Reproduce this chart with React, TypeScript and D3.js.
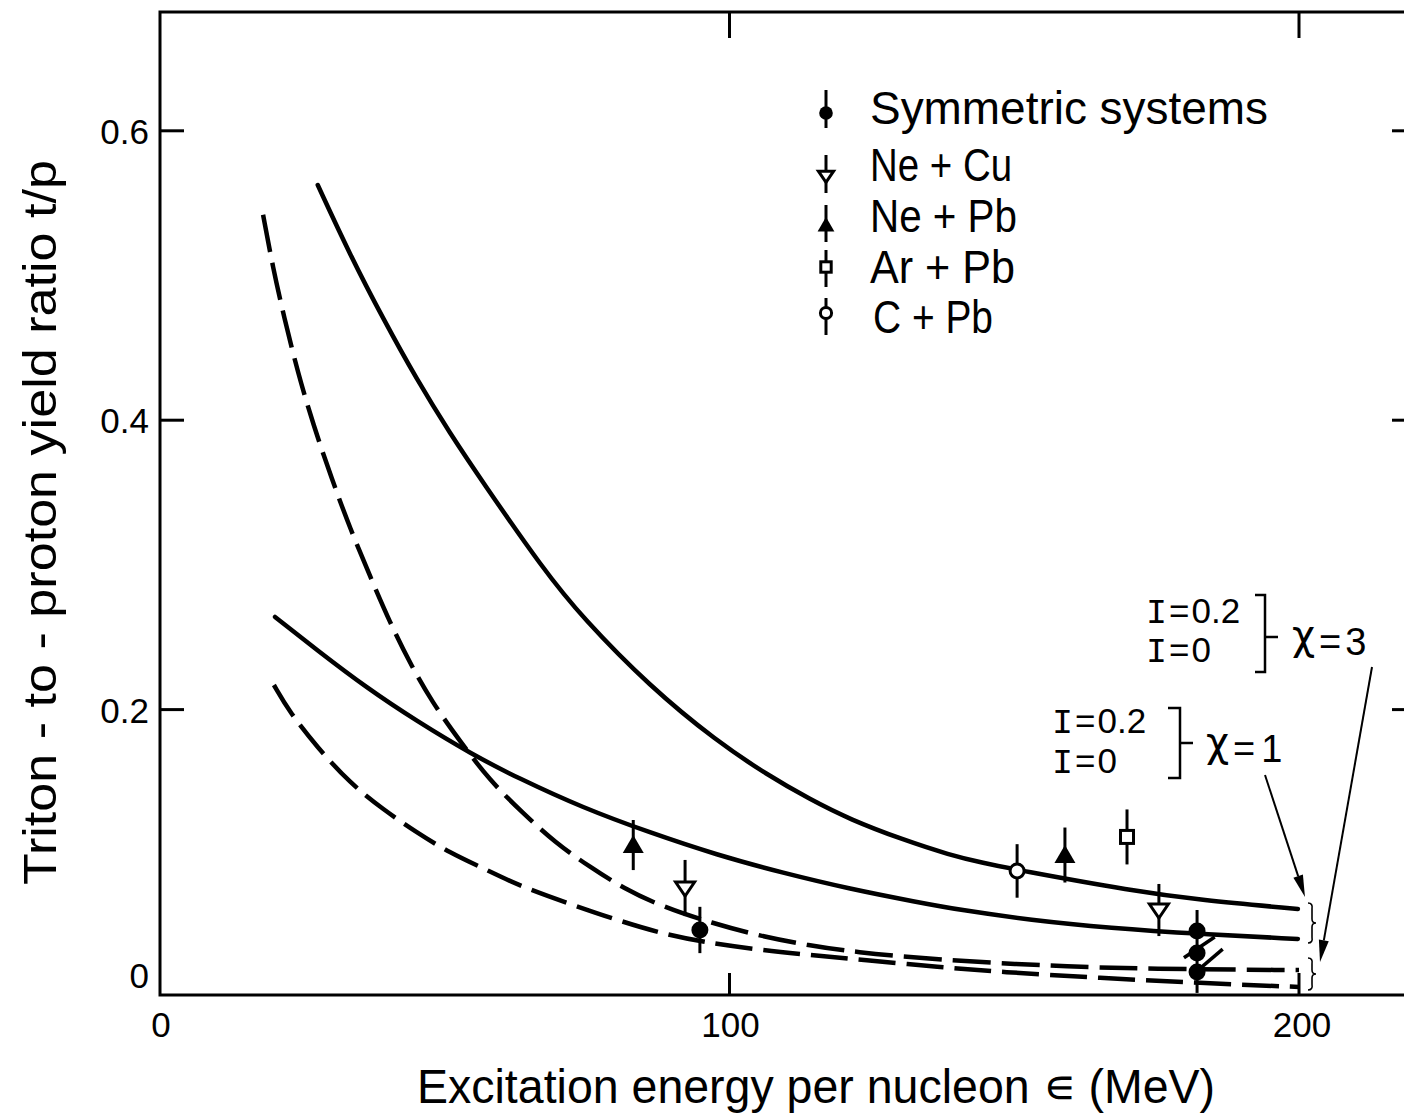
import React from 'react';
import * as d3 from 'd3';

// ---------- data ----------
const xTickValues = [0, 100, 200];
const xTickLabels = ['0', '100', '200'];
const yTickValues = [0, 0.2, 0.4, 0.6];
const yTickLabels = ['0', '0.2', '0.4', '0.6'];

// theory curves [energy (MeV), t/p]
const curveChi1I02: [number, number][] = [
  [27.7, 0.5625], [33.4, 0.514], [39.2, 0.47], [45.1, 0.428], [50.9, 0.391], [56.7, 0.357],
  [67.3, 0.297], [74.3, 0.263], [86.0, 0.216], [97.8, 0.178], [106.6, 0.155], [114.1, 0.138],
  [121.2, 0.124], [130.5, 0.11], [138.7, 0.0995], [144.5, 0.094], [150.5, 0.0892],
  [170.9, 0.0746], [182.6, 0.0684], [199.8, 0.0622],
];
const curveChi1I0: [number, number][] = [
  [20.2, 0.264], [27.6, 0.241], [36.3, 0.215], [45.1, 0.192], [54.8, 0.169], [62.7, 0.153],
  [74.3, 0.132], [86.0, 0.115], [97.8, 0.0995], [109.4, 0.0871], [121.2, 0.076], [132.9, 0.067],
  [140.5, 0.0615], [152.8, 0.0546], [166.8, 0.0491], [182.6, 0.0449], [199.8, 0.0415],
];
const curveChi3I02: [number, number][] = [
  [18.1, 0.542], [19.8, 0.506], [21.8, 0.471], [24.2, 0.433], [26.9, 0.397], [30.2, 0.359],
  [33.4, 0.325], [36.9, 0.292], [40.4, 0.26], [43.9, 0.232], [47.8, 0.205], [52.7, 0.178],
  [57.9, 0.151], [63.6, 0.129], [69.4, 0.108], [75.5, 0.0912], [81.3, 0.0767], [88.3, 0.0636],
  [96.9, 0.0525], [105.4, 0.0435], [113.6, 0.0373], [121.7, 0.0325], [136.9, 0.027],
  [156.3, 0.0228], [173.8, 0.0207], [200, 0.02],
];
const curveChi3I0: [number, number][] = [
  [20.0, 0.217], [22.8, 0.198], [27.6, 0.174], [33.4, 0.149], [39.2, 0.131], [45.1, 0.115],
  [50.9, 0.101], [56.7, 0.0905], [62.7, 0.0788], [71.5, 0.0663], [80.2, 0.0546], [87.8, 0.0456],
  [95.3, 0.0394], [105.4, 0.0339], [114.1, 0.0304], [123.4, 0.027], [137.0, 0.0221],
  [147.5, 0.0187], [165.1, 0.0145], [182.6, 0.0111], [200, 0.0083],
];

// data points [energy, t/p, error]
const symmetricSystems: [number, number, number][] = [
  [94.8, 0.0477, 0.016], [182.1, 0.047, 0.0145], [182.1, 0.0318, 0], [182.1, 0.0187, 0.0145],
];
const neCu: [number, number, number][] = [[92.2, 0.0767, 0.0194], [175.4, 0.0615, 0.018]];
const nePb: [number, number, number][] = [[83.1, 0.1064, 0.0173], [158.9, 0.0995, 0.019]];
const arPb: [number, number, number][] = [[169.8, 0.112, 0.019]];
const cPb: [number, number, number][] = [[150.5, 0.0885, 0.0185]];
// slash marks through the symmetric points at 182 MeV [e1, v1, e2, v2]
const slashMarks: [number, number, number, number][] = [
  [179.8, 0.0285, 185.2, 0.0428], [181.1, 0.016, 186.6, 0.0345],
];

const legendLabels = ['Symmetric systems', 'Ne + Cu', 'Ne + Pb', 'Ar + Pb', 'C + Pb'];
const legendShapes = ['fcircle', 'tridown', 'triup', 'square', 'ocircle'];

// ---------- layout ----------
const W = 1404, H = 1116;
const FL = 160, FT = 12, FB = 995, FR = 1417;
const x = d3.scaleLinear().domain([0, 200]).range([160, 1299]);
const y = d3.scaleLinear().domain([0, 0.6]).range([999, 130.8]);
const SANS = '"Liberation Sans", Arial, sans-serif';
const MONO = '"Liberation Mono", monospace';

const line = d3.line<[number, number]>().x(d => x(d[0])).y(d => y(d[1])).curve(d3.curveBasis);

function Marker({ shape, cx, cy, s = 1 }: { shape: string; cx: number; cy: number; s?: number }) {
  if (shape === 'fcircle') return <circle cx={cx} cy={cy} r={8.5 * s} fill="#000" />;
  if (shape === 'ocircle') return <circle cx={cx} cy={cy} r={7 * s} fill="#fff" stroke="#000" strokeWidth={3} />;
  if (shape === 'square') return <rect x={cx - 6.5 * s} y={cy - 6.5 * s} width={13 * s} height={13 * s} fill="#fff" stroke="#000" strokeWidth={3} />;
  if (shape === 'triup') return <path d={`M${cx},${cy - 10 * s}L${cx + 10.5 * s},${cy + 8 * s}L${cx - 10.5 * s},${cy + 8 * s}Z`} fill="#000" />;
  return <path d={`M${cx - 9.5 * s},${cy - 6 * s}L${cx + 9.5 * s},${cy - 6 * s}L${cx},${cy + 8 * s}Z`} fill="#fff" stroke="#000" strokeWidth={3} strokeLinejoin="miter" />;
}

function Points({ data, shape }: { data: [number, number, number][]; shape: string }) {
  return (
    <g>
      {data.map((d, i) => (
        <g key={i}>
          {d[2] > 0 && <line x1={x(d[0])} x2={x(d[0])} y1={y(d[1] - d[2])} y2={y(d[1] + d[2])} stroke="#000" strokeWidth={3} />}
          <Marker shape={shape} cx={x(d[0])} cy={y(d[1])} />
        </g>
      ))}
    </g>
  );
}

function Arrow({ x1, y1, x2, y2 }: { x1: number; y1: number; x2: number; y2: number }) {
  const a = Math.atan2(y2 - y1, x2 - x1);
  const L = 22, w = 5;
  const bx = x2 - L * Math.cos(a), by = y2 - L * Math.sin(a);
  const px = -Math.sin(a) * w, py = Math.cos(a) * w;
  return (
    <g>
      <line x1={x1} y1={y1} x2={bx} y2={by} stroke="#000" strokeWidth={2} />
      <path d={`M${x2},${y2}L${bx + px},${by + py}L${bx - px},${by - py}Z`} fill="#000" />
    </g>
  );
}

function Brace({ bx, y1, y2 }: { bx: number; y1: number; y2: number }) {
  const m = (y1 + y2) / 2;
  return (
    <path
      d={`M${bx - 3},${y1} Q${bx + 2},${y1} ${bx + 1},${y1 + 6} L${bx + 1},${m - 4} Q${bx + 1},${m} ${bx + 5},${m} Q${bx + 1},${m} ${bx + 1},${m + 4} L${bx + 1},${y2 - 6} Q${bx + 2},${y2} ${bx - 3},${y2}`}
      fill="none" stroke="#000" strokeWidth={1.6}
    />
  );
}

function IText({ tx, ty, val }: { tx: number; ty: number; val: string }) {
  return (
    <text x={tx} y={ty} fontFamily={SANS} fontSize={35}>
      <tspan fontFamily={MONO} fontSize={35}>I</tspan>
      <tspan dx={2}>=</tspan>
      <tspan dx={2}>{val}</tspan>
    </text>
  );
}

export default function App() {
  const legendX = 826;
  const legendRowsY = [113, 176, 225, 267, 313];
  const legendBars: [number, number][] = [[90, 128], [155, 193], [205, 242], [250, 287], [298, 335]];
  const legendBase = [124, 181, 232, 283, 333];
  const legendLen = [398, 142, 147, 145, 120];

  return (
    <svg width={W} height={H} style={{ position: 'absolute', left: 0, top: 0, background: '#fff' }}>
      <rect width={W} height={H} fill="#fff" />
      {/* frame */}
      <path d={`M${FR},${FT}H${FL}V${FB}H${FR}`} fill="none" stroke="#000" strokeWidth={3} />
      {/* ticks */}
      {xTickValues.filter(v => v > 0).map(v => (
        <g key={'xt' + v}>
          <line x1={x(v)} x2={x(v)} y1={FT} y2={FT + 26} stroke="#000" strokeWidth={3} />
          <line x1={x(v)} x2={x(v)} y1={FB} y2={FB - 22} stroke="#000" strokeWidth={3} />
        </g>
      ))}
      {yTickValues.filter(v => v > 0).map(v => (
        <g key={'yt' + v}>
          <line x1={FL} x2={FL + 24} y1={y(v)} y2={y(v)} stroke="#000" strokeWidth={3} />
          <line x1={FR - 25} x2={FR} y1={y(v)} y2={y(v)} stroke="#000" strokeWidth={3} />
        </g>
      ))}
      {/* tick labels */}
      {xTickValues.map((v, i) => (
        <text key={'xl' + v} x={x(v) + (i === 2 ? 3 : 1)} y={1037} textAnchor="middle" fontFamily={SANS} fontSize={35}>{xTickLabels[i]}</text>
      ))}
      {yTickValues.map((v, i) => (
        <text key={'yl' + v} x={149} y={v === 0 ? 988 : y(v) + 13} textAnchor="end" fontFamily={SANS} fontSize={35}>{yTickLabels[i]}</text>
      ))}
      {/* axis titles */}
      <text x={417} y={1103} fontFamily={SANS} fontSize={48} textLength={798} lengthAdjust="spacingAndGlyphs">Excitation energy per nucleon ∊ (MeV)</text>
      <text transform="translate(56,885) rotate(-90)" fontFamily={SANS} fontSize={47} textLength={725} lengthAdjust="spacingAndGlyphs">Triton - to - proton yield ratio t/p</text>

      {/* curves */}
      <path d={line(curveChi1I02) || ''} fill="none" stroke="#000" strokeWidth={4.5} strokeLinecap="round" />
      <path d={line(curveChi1I0) || ''} fill="none" stroke="#000" strokeWidth={4.5} strokeLinecap="round" />
      <path d={line(curveChi3I02) || ''} fill="none" stroke="#000" strokeWidth={4.5} strokeDasharray="38 11" />
      <path d={line(curveChi3I0) || ''} fill="none" stroke="#000" strokeWidth={4.5} strokeDasharray="37 11" />

      {/* data */}
      <Points data={symmetricSystems} shape="fcircle" />
      <Points data={neCu} shape="tridown" />
      <Points data={nePb} shape="triup" />
      <Points data={arPb} shape="square" />
      <Points data={cPb} shape="ocircle" />
      {slashMarks.map((s, i) => (
        <line key={'sl' + i} x1={x(s[0])} y1={y(s[1])} x2={x(s[2])} y2={y(s[3])} stroke="#000" strokeWidth={3.5} />
      ))}

      {/* legend */}
      {legendLabels.map((lab, i) => (
        <g key={'lg' + i}>
          <line x1={legendX} x2={legendX} y1={legendBars[i][0]} y2={legendBars[i][1]} stroke="#000" strokeWidth={3} />
          <Marker shape={legendShapes[i]} cx={legendX} cy={legendRowsY[i]} s={0.8} />
          <text x={i === 4 ? 873 : 870} y={legendBase[i]} fontFamily={SANS} fontSize={46} textLength={legendLen[i]} lengthAdjust="spacingAndGlyphs">{lab}</text>
        </g>
      ))}

      {/* annotations chi = 3 */}
      <IText tx={1146} ty={623} val="0.2" />
      <IText tx={1146} ty={662} val="0" />
      <path d="M1255,595H1265V672H1255M1265,637H1278" fill="none" stroke="#000" strokeWidth={2.5} />
      <text x={1292} y={655} fontFamily={SANS} fontSize={38}>
        <tspan fontFamily='"DejaVu Sans", sans-serif' fontSize={40} dy={-6}>χ</tspan>
        <tspan dx={4} dy={6}>=</tspan>
        <tspan dx={4}>3</tspan>
      </text>
      {/* annotations chi = 1 */}
      <IText tx={1052} ty={733} val="0.2" />
      <IText tx={1052} ty={773} val="0" />
      <path d="M1168,708H1180V778H1168M1180,743H1193" fill="none" stroke="#000" strokeWidth={2.5} />
      <text x={1206} y={762} fontFamily={SANS} fontSize={38}>
        <tspan fontFamily='"DejaVu Sans", sans-serif' fontSize={40} dy={-6}>χ</tspan>
        <tspan dx={4} dy={6}>=</tspan>
        <tspan dx={6}>1</tspan>
      </text>
      <Arrow x1={1265} y1={775} x2={1305} y2={897} />
      <Arrow x1={1372} y1={667} x2={1320} y2={962} />
      <Brace bx={1311} y1={903} y2={943} />
      <Brace bx={1311} y1={958} y2={990} />
    </svg>
  );
}
